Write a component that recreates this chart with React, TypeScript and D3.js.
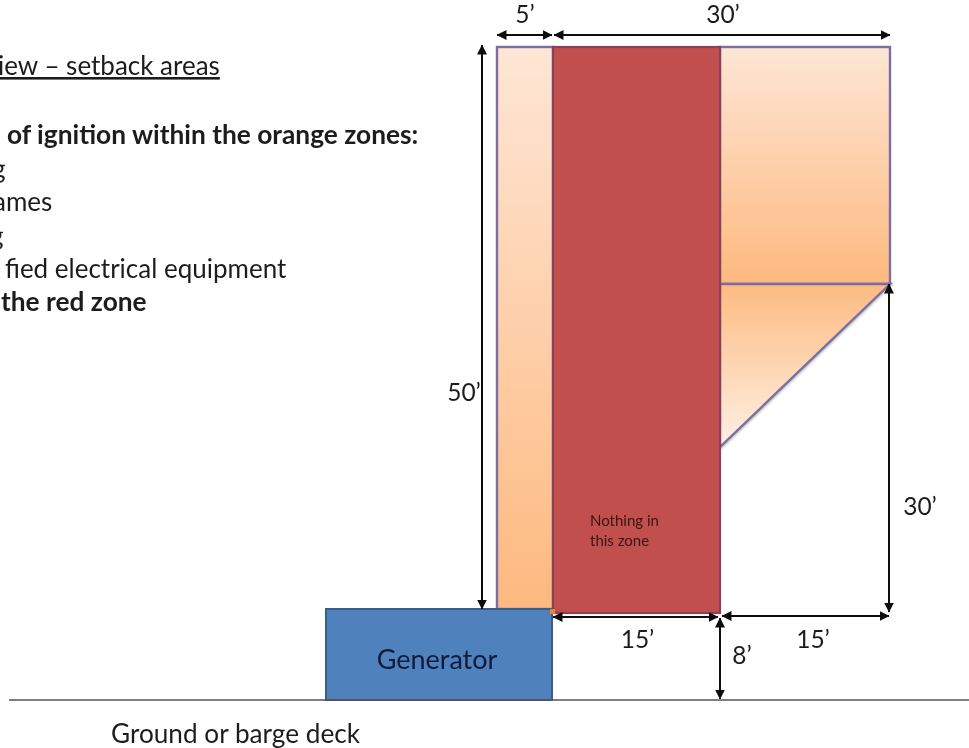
import React from "react";
import * as d3 from "d3";

const feetAcross = [0, 5, 20, 35];
const pixelsAcross = [497, 553, 720, 890];
const feetUp = [0, 8, 23, 38, 58];
const pixelsUp = [700, 613, 447, 284, 47];

const noteLines = [
  { text: "iew – setback areas", x: -2, y: 75, bold: false, underline: true },
  { text: "of ignition within the orange zones:", x: 7, y: 144, bold: true, underline: false },
  { text: "g", x: -8, y: 178, bold: false, underline: false },
  { text: "ames", x: -7, y: 211, bold: false, underline: false },
  { text: "g", x: -10, y: 245, bold: false, underline: false },
  { text: "fied electrical equipment", x: 5, y: 278, bold: false, underline: false },
  { text: "the red zone", x: 1, y: 311, bold: true, underline: false },
];

const dimensionLabels = [
  { text: "5’", ft: 2.5, up: 58, dx: 0, dy: -30 },
  { text: "30’", ft: 20, up: 58, dx: 3, dy: -30 },
  { text: "50’", ft: 0, up: 33, dx: -33, dy: 56 },
  { text: "30’", ft: 35, up: 23, dx: 30, dy: 62 },
  { text: "15’", ft: 12.5, up: 8, dx: 1, dy: 29 },
  { text: "15’", ft: 27.5, up: 8, dx: 8, dy: 29 },
  { text: "8’", ft: 20, up: 4, dx: 22, dy: 1 },
];

export default function App() {
  const x = d3.scaleLinear().domain(feetAcross).range(pixelsAcross);
  const y = d3.scaleLinear().domain(feetUp).range(pixelsUp);
  const line = d3.line<number[]>().x((d) => x(d[0])).y((d) => y(d[1]));
  const font = "Lato, 'Open Sans', sans-serif";
  const edge = "#7c6da3";
  const arrows = [
    { x1: x(0), y1: 35, x2: x(5) - 1, y2: 35 },
    { x1: x(5) + 1, y1: 35, x2: x(35), y2: 35 },
    { x1: 482, y1: y(58) - 2, x2: 482, y2: 609 },
    { x1: 889, y1: y(38), x2: 889, y2: 612 },
    { x1: x(5), y1: 617, x2: x(20) - 2, y2: 617 },
    { x1: x(20) + 2, y1: 616, x2: 889, y2: 616 },
    { x1: x(20), y1: 618, x2: x(20), y2: 699 },
  ];
  const triangle = [[20, 38], [35, 38], [20, 23]];
  return (
    <svg width={969} height={748} style={{ position: "absolute", left: 0, top: 0, background: "#fff" }} fontFamily={font}>
      <defs>
        <linearGradient id="down" x1="0" x2="0" y1="0" y2="1">
          <stop offset="0" stopColor="#fee6d5" />
          <stop offset="1" stopColor="#fdb97f" />
        </linearGradient>
        <linearGradient id="up" x1="0" x2="0" y1="0" y2="1">
          <stop offset="0" stopColor="#fdbb82" />
          <stop offset="1" stopColor="#fff0e4" />
        </linearGradient>
        <marker id="head" viewBox="0 0 10 10" refX="9.5" refY="5" markerWidth="10" markerHeight="10" markerUnits="userSpaceOnUse" orient="auto-start-reverse">
          <path d="M0,0 L10,5 L0,10 Z" fill="#111" />
        </marker>
        <filter id="soft"><feGaussianBlur stdDeviation="0.5" /></filter>
        <filter id="shade" x="-10%" y="-10%" width="120%" height="120%">
          <feDropShadow dx="0.8" dy="1" stdDeviation="0.8" floodColor="#555" floodOpacity="0.4" />
        </filter>
      </defs>
      <g filter="url(#soft)">
        <rect x={x(0)} y={y(58)} width={x(5) - x(0)} height={609 - y(58)} fill="url(#down)" stroke={edge} strokeWidth={2.4} />
        <rect x={x(20)} y={y(58)} width={x(35) - x(20)} height={y(38) - y(58)} fill="url(#down)" stroke={edge} strokeWidth={2.4} />
        <path d={line(triangle) + "Z"} fill="url(#up)" stroke={edge} strokeWidth={2.4} filter="url(#shade)" />
        <rect x={x(5)} y={y(58)} width={x(20) - x(5)} height={y(8) - y(58)} fill="#c0504d" stroke="#8c4058" strokeWidth={2.2} />
        <rect x={326} y={609} width={x(5) - 1 - 326} height={y(0) - 609} fill="#4f81bd" stroke="#385d8a" strokeWidth={2} />
        <rect x={x(5) - 3} y={609} width={5} height={5} fill="#e8862e" />
        <line x1={9} x2={969} y1={y(0)} y2={y(0)} stroke="#555" strokeWidth={1.5} />
        {arrows.map((a, i) => (
          <line key={i} {...a} stroke="#111" strokeWidth={2} markerStart="url(#head)" markerEnd="url(#head)" />
        ))}
        <g fontSize={26} fill="#1f1f1f">
          {noteLines.map((n, i) => (
            <text key={i} x={n.x} y={n.y} fontWeight={n.bold ? 700 : 400} fontSize={n.bold ? 26.3 : 26} textDecoration={n.underline ? "underline" : undefined}>{n.text}</text>
          ))}
          {dimensionLabels.map((d, i) => (
            <text key={i} x={x(d.ft) + d.dx} y={y(d.up) + d.dy} textAnchor="middle" dominantBaseline="middle" fontSize={24.5}>{d.text}</text>
          ))}
          <text x={437} y={669} textAnchor="middle" fill="#111c3a" fontSize={27}>Generator</text>
          <text x={111} y={743} fontSize={26.2}>Ground or barge deck</text>
        </g>
        <g fontSize={15} fill="#3a1512">
          <text x={590} y={526}>Nothing in</text>
          <text x={590} y={546}>this zone</text>
        </g>
      </g>
    </svg>
  );
}
